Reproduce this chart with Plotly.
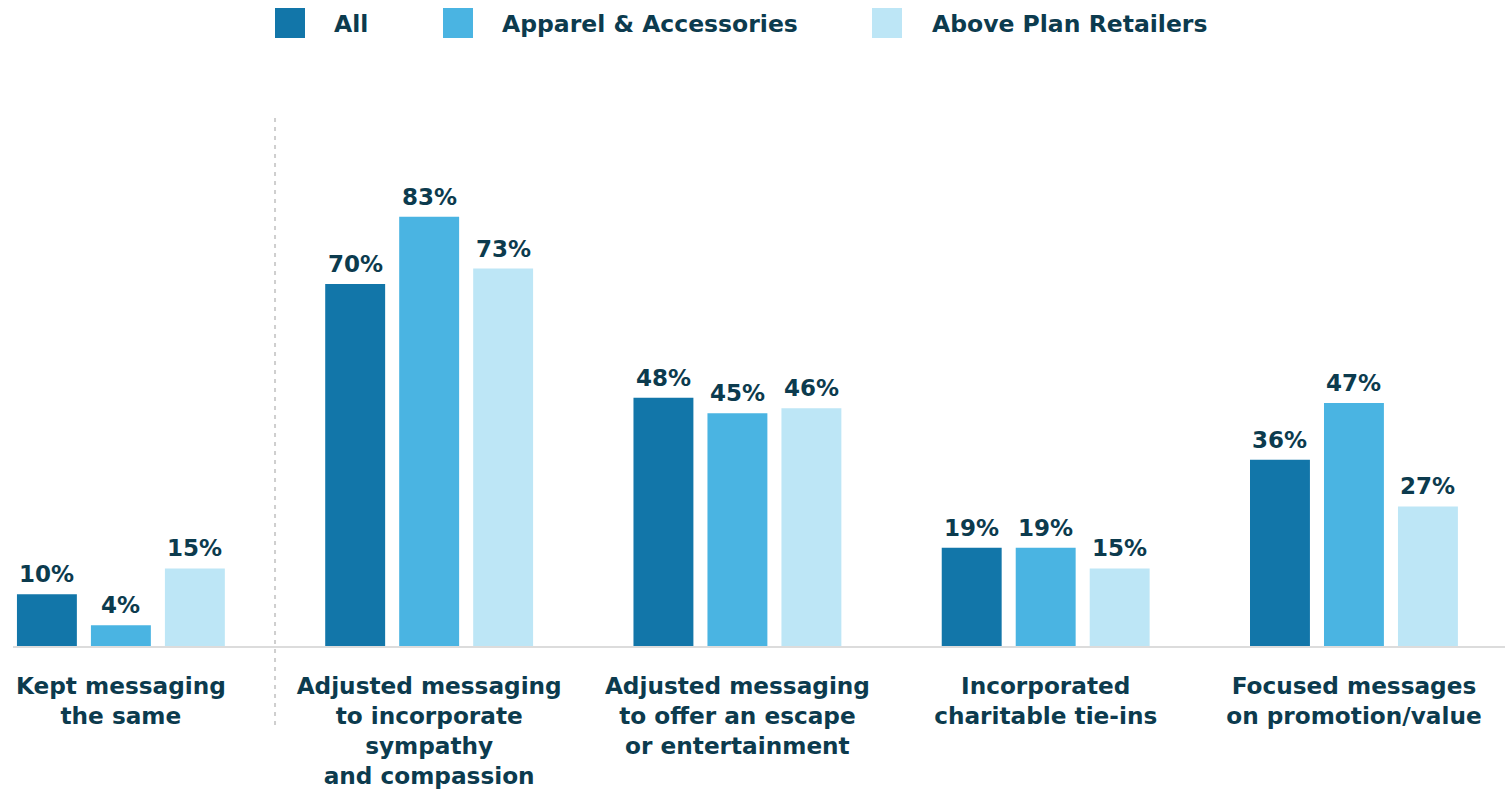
import plotly.graph_objects as go

categories = [
    "Kept messaging<br>the same",
    "Adjusted messaging<br>to incorporate<br>sympathy<br>and compassion",
    "Adjusted messaging<br>to offer an escape<br>or entertainment",
    "Incorporated<br>charitable tie-ins",
    "Focused messages<br>on promotion/value",
]
series_names = ["All", "Apparel & Accessories", "Above Plan Retailers"]
all_values = [10, 70, 48, 19, 36]
apparel_values = [4, 83, 45, 19, 47]
above_plan_values = [15, 73, 46, 15, 27]

colors = ["#1276a9", "#4ab4e2", "#bde6f6"]
text_color = "#0c3b4e"
font_family = "DejaVu Sans"

W, H = 1512, 792
margin = dict(l=13, r=7, t=100, b=146)
plot_w = W - margin["l"] - margin["r"]
plot_h = H - margin["t"] - margin["b"]

BARGAP = 0.28
BARGROUPGAP = 0.19


def px_x(px):
    return (px - margin["l"]) / plot_w


def px_y(py):
    return (H - margin["b"] - py) / plot_h


fig = go.Figure()
all_series = [all_values, apparel_values, above_plan_values]
n_series = len(all_series)
slot = (1 - BARGAP) / n_series

for k, (name, vals, col) in enumerate(zip(series_names, all_series, colors)):
    fig.add_trace(go.Bar(
        name=name,
        x=list(range(len(categories))),
        y=vals,
        marker=dict(color=col, line=dict(width=0)),
        showlegend=False,
        hoverinfo="skip",
    ))
    # value labels above each bar
    offset = (k - (n_series - 1) / 2) * slot
    for i, v in enumerate(vals):
        fig.add_annotation(
            x=i + offset, y=v, xref="x", yref="y",
            text=f"{v}%", showarrow=False,
            xanchor="center", yanchor="bottom", yshift=5,
            font=dict(family=font_family, size=23, color=text_color, weight="bold"),
        )

x_min, x_max = -0.35, 4.49

# dashed divider between the first group and the rest
div_x = (0.5 - x_min) / (x_max - x_min)
fig.add_shape(type="line", xref="paper", yref="paper",
              x0=div_x, x1=div_x, y0=px_y(118), y1=px_y(730),
              line=dict(color="#cfcfcf", width=2, dash="4px,5px"))

# legend drawn as swatches with text
legend_items = [(275, 332), (443, 500), (872, 930)]
for (sx, tx), name, col in zip(legend_items, series_names, colors):
    fig.add_shape(type="rect", xref="paper", yref="paper",
                  x0=px_x(sx), x1=px_x(sx + 30), y0=px_y(38), y1=px_y(8),
                  fillcolor=col, line=dict(width=0))
    fig.add_annotation(xref="paper", yref="paper", x=px_x(tx), y=px_y(24),
                       text=name, showarrow=False, xanchor="left", yanchor="middle",
                       font=dict(family=font_family, size=23.5, color=text_color, weight="bold"))

fig.update_layout(
    width=W, height=H,
    margin=margin,
    paper_bgcolor="white", plot_bgcolor="white",
    barmode="group", bargap=BARGAP, bargroupgap=BARGROUPGAP,
    xaxis=dict(
        range=[x_min, x_max],
        tickmode="array", tickvals=list(range(len(categories))), ticktext=categories,
        tickfont=dict(family=font_family, size=23.2, color=text_color, weight="bold"),
        showgrid=False, zeroline=False, automargin=False,
        showline=True, linecolor="#dcdcdc", linewidth=2,
        ticks="", ticklabelstandoff=18,
    ),
    yaxis=dict(range=[0, 105.6], visible=False, showgrid=False, zeroline=False,
               automargin=False),
    font=dict(family=font_family, color=text_color),
)

fig.write_html("out.html")
